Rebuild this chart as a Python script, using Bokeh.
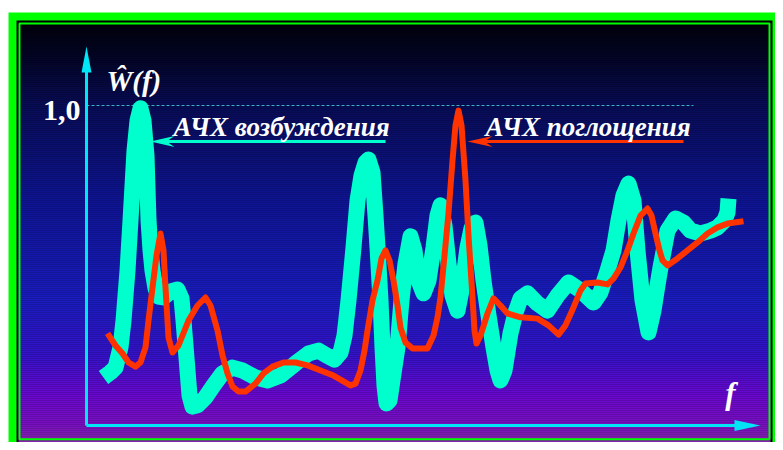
import numpy as np
from bokeh.plotting import figure
from bokeh.models import Range1d
from bokeh.core.properties import value
from bokeh.embed import file_html
from bokeh.resources import INLINE

# ---------------- data (f in arbitrary frequency units, W normalised 0..1) -------------
f_exc = [1.7, 2.4, 2.9, 3.4, 3.7, 4.1, 4.4, 4.8, 5.1, 5.4, 5.7, 6.0, 6.2, 6.4, 6.6, 6.9, 7.2, 7.7,
         8.4, 9.1, 9.5, 9.7, 9.9, 10.1, 10.3, 10.6, 11.1, 11.9, 12.7, 13.6, 14.6, 15.6, 16.9, 18.1,
         19.4, 20.9, 22.2, 23.2, 24.0, 24.8, 25.4, 25.8, 26.2, 26.7, 27.1, 27.5, 27.9, 28.2, 28.6,
         28.9, 29.1, 29.4, 29.6, 29.8, 30.0, 30.3, 30.6, 31.1, 31.5, 31.9, 32.4, 32.8, 33.2, 33.7,
         34.2, 34.7, 35.1, 35.4, 35.8, 36.2, 36.6, 37.1, 37.6, 38.1, 38.5, 38.9, 39.3, 39.7, 40.2,
         40.7, 41.1, 41.4, 41.8, 42.4, 42.9, 43.4, 44.1, 45.1, 46.1, 47.1, 48.2, 49.4, 50.7, 51.4,
         52.1, 52.7, 53.2, 53.7, 54.2, 54.7, 55.1, 55.6, 56.2, 56.7, 57.1, 57.4, 58.1, 58.9, 59.7,
         60.4, 61.4, 62.4, 63.1, 63.8, 64.1, 64.2]
w_exc = [0.150, 0.166, 0.181, 0.244, 0.328, 0.484, 0.641, 0.859, 0.953, 0.991, 0.953, 0.844, 0.641,
         0.547, 0.484, 0.428, 0.403, 0.400, 0.419, 0.425, 0.397, 0.328, 0.250, 0.172, 0.094, 0.059,
         0.063, 0.088, 0.125, 0.163, 0.181, 0.172, 0.150, 0.141, 0.156, 0.194, 0.225, 0.234, 0.219,
         0.206, 0.228, 0.281, 0.391, 0.556, 0.703, 0.781, 0.822, 0.831, 0.791, 0.656, 0.556, 0.391,
         0.244, 0.125, 0.069, 0.078, 0.141, 0.244, 0.391, 0.506, 0.591, 0.547, 0.453, 0.413, 0.453,
         0.556, 0.656, 0.688, 0.625, 0.506, 0.406, 0.359, 0.438, 0.556, 0.616, 0.634, 0.563, 0.453,
         0.344, 0.244, 0.172, 0.141, 0.172, 0.288, 0.353, 0.397, 0.413, 0.381, 0.359, 0.406, 0.447,
         0.422, 0.384, 0.416, 0.484, 0.547, 0.641, 0.719, 0.756, 0.703, 0.547, 0.391, 0.291, 0.359,
         0.438, 0.494, 0.609, 0.647, 0.634, 0.609, 0.600, 0.609, 0.619, 0.641, 0.666, 0.709]

f_abs = [2.1, 2.9, 3.6, 4.2, 4.9, 5.4, 5.9, 6.2, 6.6, 7.0, 7.4, 7.7, 7.9, 8.2, 8.6, 9.2, 10.2, 11.1,
         11.9, 12.4, 13.1, 13.6, 14.1, 14.6, 15.2, 15.9, 16.9, 17.7, 18.6, 19.7, 20.9, 22.1, 23.4,
         24.7, 25.7, 26.4, 26.9, 27.4, 27.8, 28.1, 28.6, 29.1, 29.5, 29.9, 30.3, 30.7, 31.1, 31.4,
         31.9, 32.6, 33.4, 34.1, 34.7, 35.1, 35.4, 35.8, 36.2, 36.6, 36.9, 37.2, 37.5, 37.9, 38.2,
         38.6, 38.8, 39.0, 39.4, 40.1, 40.7, 41.4, 42.1, 43.4, 45.1, 46.2, 47.2, 47.9, 48.7, 49.4,
         49.9, 51.1, 52.1, 52.7, 53.4, 54.1, 54.7, 55.4, 56.1, 56.5, 56.9, 57.3, 57.6, 58.1, 59.1,
         60.1, 61.1, 62.1, 63.1, 64.1, 65.7]
w_abs = [0.288, 0.250, 0.225, 0.197, 0.184, 0.197, 0.244, 0.328, 0.431, 0.531, 0.600, 0.547, 0.431,
         0.275, 0.228, 0.250, 0.328, 0.375, 0.400, 0.375, 0.297, 0.219, 0.163, 0.122, 0.106, 0.106,
         0.131, 0.163, 0.184, 0.197, 0.197, 0.188, 0.172, 0.156, 0.138, 0.125, 0.131, 0.172, 0.234,
         0.297, 0.391, 0.453, 0.522, 0.547, 0.516, 0.453, 0.375, 0.306, 0.259, 0.241, 0.241, 0.241,
         0.281, 0.338, 0.400, 0.531, 0.663, 0.828, 0.938, 0.984, 0.938, 0.766, 0.594, 0.400, 0.297,
         0.256, 0.281, 0.350, 0.397, 0.375, 0.350, 0.338, 0.334, 0.313, 0.284, 0.313, 0.369, 0.422,
         0.444, 0.447, 0.441, 0.459, 0.494, 0.547, 0.600, 0.656, 0.678, 0.656, 0.600, 0.547, 0.516,
         0.500, 0.522, 0.547, 0.572, 0.600, 0.619, 0.631, 0.638]

y_tick_value = 1.0
y_tick_label = "1,0"
y_title = "Ŵ(f)"
x_title = "f"
label_exc = "АЧХ возбуждения"
label_abs = "АЧХ поглощения"

# ---------------- layout helpers (pixel -> data) ----------------
W, H = 775, 442
OX, OY = 86.0, 425.0          # axis origin in pixels
SX, SY = 10.0, 320.0          # pixels per data unit


def fx(px):
    return (px - OX) / SX


def fy(py):
    return (OY - py) / SY


p = figure(width=W, height=H, x_range=Range1d(fx(0), fx(W)), y_range=Range1d(fy(H), fy(0)),
           output_backend="svg", toolbar_location=None, min_border=0)
p.axis.visible = False
p.grid.visible = False
p.outline_line_color = None
p.background_fill_color = "white"
p.border_fill_color = "white"

GREEN = "#00ff00"
CYAN_AX = "#00e6f5"
EXC = "#00ffcc"
ABS = "#ff3300"

# frame
p.quad(left=fx(8), right=fx(800), top=fy(12), bottom=fy(460), fill_color=GREEN, line_color=None)
p.quad(left=fx(16), right=fx(772), top=fy(20), bottom=fy(460), fill_color="black", line_color=None)

# gradient background
stops_y = [22, 60, 105, 200, 300, 355, 395, 425, 450]
stops_c = [(1, 1, 10), (3, 5, 40), (8, 12, 84), (14, 20, 145), (26, 28, 188), (52, 18, 198),
           (104, 8, 204), (120, 16, 190), (138, 48, 160)]
ys = np.arange(22, 446, 2.0)
cols = []
for yy in ys:
    c = [int(round(np.interp(yy + 1, stops_y, [s[k] for s in stops_c]))) for k in range(3)]
    cols.append("#%02x%02x%02x" % tuple(c))
p.quad(left=fx(18), right=fx(770), top=[fy(v) for v in ys], bottom=[fy(v + 2.3) for v in ys],
       fill_color=cols, line_color=None)

# inner thin frame
p.quad(left=fx(19), right=fx(769), top=fy(23), bottom=fy(438.7), fill_color=None,
       line_color=GREEN, line_width=2)

# dashed 1,0 level
p.line([0, fx(693)], [y_tick_value, y_tick_value], line_color="#3cb4c8", line_width=1, line_dash="3 2")

# axes
p.line([0, 0], [0, fy(66)], line_color=CYAN_AX, line_width=3)
p.line([0, fx(740)], [0, 0], line_color=CYAN_AX, line_width=3)
p.patch([fx(86), fx(81), fx(91)], [fy(46), fy(72), fy(72)], fill_color=CYAN_AX, line_color=None)
p.patch([fx(760), fx(734), fx(734)], [fy(425), fy(419.5), fy(430.5)], fill_color=CYAN_AX, line_color=None)

# curves
p.line(f_exc, w_exc, line_color=EXC, line_width=16, line_join="round", line_cap="butt")
p.line(f_abs, w_abs, line_color=ABS, line_width=6, line_join="round", line_cap="butt")

# label arrows
p.line([fx(165), fx(385)], [fy(141), fy(141)], line_color=EXC, line_width=3)
p.patch([fx(150), fx(174), fx(166), fx(174)], [fy(141), fy(135.5), fy(141), fy(146.5)],
        fill_color=EXC, line_color=None)
p.line([fx(482), fx(683)], [fy(141), fy(141)], line_color=ABS, line_width=3)
p.patch([fx(467), fx(492), fx(484), fx(492)], [fy(141), fy(135.5), fy(141), fy(146.5)],
        fill_color=ABS, line_color=None)

SERIF = value("Liberation Serif")
p.text(x=[fx(173)], y=[fy(126)], text=[label_exc], text_color="white", text_font=SERIF,
       text_font_style="bold italic", text_font_size="27px", text_baseline="alphabetic")
p.text(x=[fx(485)], y=[fy(126)], text=[label_abs], text_color="white", text_font=SERIF,
       text_font_style="bold italic", text_font_size="27px", text_baseline="alphabetic")
p.text(x=[fx(80)], y=[fy(110)], text=[y_tick_label], text_color="white", text_font=SERIF,
       text_font_style="bold", text_font_size="30px", text_align="right", text_baseline="alphabetic")
p.text(x=[fx(106)], y=[fy(80)], text=[y_title], text_color="white", text_font=SERIF,
       text_font_style="bold italic", text_font_size="29px", text_baseline="alphabetic")
p.text(x=[fx(730)], y=[fy(393)], text=[x_title], text_color="white", text_font=SERIF,
       text_font_style="bold italic", text_font_size="31px", text_align="center", text_baseline="alphabetic")

open("out.html", "w").write(file_html(p, INLINE))
